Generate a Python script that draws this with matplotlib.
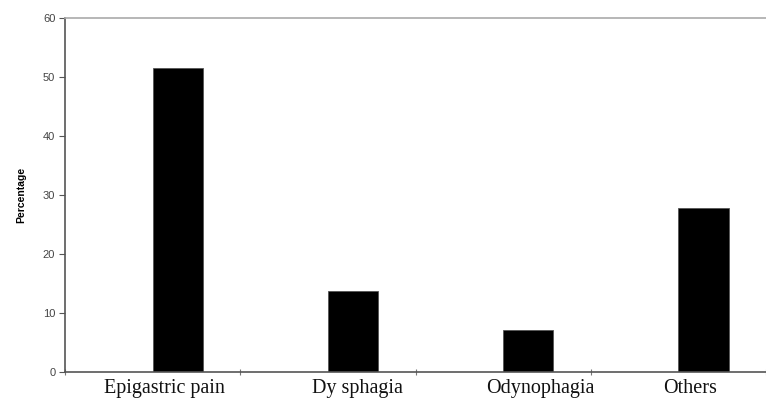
import matplotlib
matplotlib.use("Agg")
import matplotlib.pyplot as plt
import numpy as np

categories = ["Epigastric pain", "Dy sphagia", "Odynophagia", "Others"]
values = [51.5, 13.7, 7.2, 27.8]
yticks = [0, 10, 20, 30, 40, 50, 60]
label_offsets = [0.067, 0.17, 0.21, 0.065]

fig = plt.figure(figsize=(7.66, 4.03), dpi=100)
ax = fig.add_axes([65/766, 1-372/403, 1-65/766, (372-18)/403])

slot = 178.0
x = np.arange(len(categories))
bar_w = 51/slot
ax.bar(x + 25.5/slot, values, width=bar_w, color="black", edgecolor="#555555", linewidth=0.6)

ax.set_ylim(0, 60)
ax.set_xlim(-0.5, -0.5 + (766-65)/slot)
ax.set_yticks(yticks)
ax.set_yticklabels([str(t) for t in yticks], fontsize=8, color="#444444", family="Liberation Sans")
ax.tick_params(axis="y", direction="out", length=4, width=0.8, color="#555555", pad=3)

ax.set_xticks(np.arange(-0.5, len(categories)))
ax.set_xticklabels([])
ax.tick_params(axis="x", which="major", direction="inout", length=5, width=0.8, color="#777777")
ax.set_xticks(x + np.array(label_offsets), minor=True)
ax.set_xticklabels(categories, minor=True, fontsize=14.5, family="Liberation Serif", color="#111111")
ax.tick_params(axis="x", which="minor", length=0, pad=5)

ax.set_ylabel("Percentage", fontsize=7.5, fontweight="bold", family="Liberation Sans", labelpad=12)

ax.spines["right"].set_visible(False)
ax.spines["top"].set_color("#aaaaaa")
ax.spines["top"].set_linewidth(1.2)
ax.spines["left"].set_color("#555555")
ax.spines["bottom"].set_color("#555555")
ax.spines["left"].set_linewidth(1.2)
ax.spines["bottom"].set_linewidth(1.2)

fig.savefig("out.png", dpi=100)
